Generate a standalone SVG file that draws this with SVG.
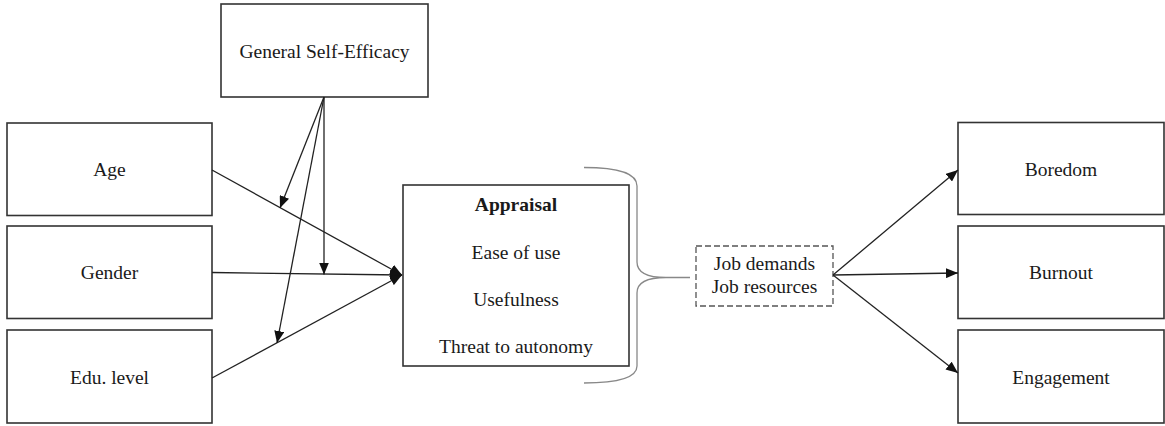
<svg xmlns="http://www.w3.org/2000/svg" width="1165" height="426" viewBox="0 0 1165 426">
  <defs>
    <style>
      .box { fill: #fff; stroke: #333; stroke-width: 1.6; }
      .dash { fill: #fff; stroke: #555; stroke-width: 1.3; stroke-dasharray: 6 3; }
      .lbl { font-family: "Liberation Serif", "Times New Roman", serif; font-size: 19.5px; fill: #1a1a1a; text-anchor: middle; }
      .bold { font-weight: bold; }
      .edge { fill: none; stroke: #222; stroke-width: 1.3; }
      .brace { fill: none; stroke: #888; stroke-width: 1.3; }
    </style>
    <marker id="arrow" markerUnits="userSpaceOnUse" markerWidth="12" markerHeight="10" viewBox="0 0 12 10" refX="12" refY="5" orient="auto">
      <path d="M0,0 L12,5 L0,10 Z" fill="#111"/>
    </marker>
  </defs>

  <!-- moderator -->
  <g id="self-efficacy">
    <rect class="box" x="221" y="4" width="207" height="93"/>
    <text class="lbl" x="324.5" y="58">General Self-Efficacy</text>
  </g>

  <!-- predictors -->
  <g id="age">
    <rect class="box" x="7" y="123" width="205" height="92.5"/>
    <text class="lbl" x="109.5" y="176">Age</text>
  </g>
  <g id="gender">
    <rect class="box" x="7" y="226" width="205" height="92.5"/>
    <text class="lbl" x="109.5" y="279">Gender</text>
  </g>
  <g id="education">
    <rect class="box" x="7" y="330" width="205" height="93"/>
    <text class="lbl" x="109.5" y="384">Edu. level</text>
  </g>

  <!-- appraisal -->
  <g id="appraisal">
    <rect class="box" x="403" y="185" width="226" height="181"/>
    <text class="lbl bold" x="516" y="210.5">Appraisal</text>
    <text class="lbl" x="516" y="259">Ease of use</text>
    <text class="lbl" x="516" y="306">Usefulness</text>
    <text class="lbl" x="516" y="353">Threat to autonomy</text>
  </g>

  <!-- brace grouping the appraisal dimensions -->
  <g id="brace">
    <path class="brace" d="M584,167.5 Q637,167.5 637,186 L637,262 Q637,277.5 666,277.5 L690,277.5 M666,277.5 Q637,277.5 637,293 L637,366 Q637,383 584,383"/>
  </g>

  <!-- job demands / resources -->
  <g id="job">
    <rect class="dash" x="696" y="246" width="137" height="60"/>
    <text class="lbl" x="764.5" y="270">Job demands</text>
    <text class="lbl" x="764.5" y="293">Job resources</text>
  </g>

  <!-- outcomes -->
  <g id="boredom">
    <rect class="box" x="958" y="122.5" width="206" height="92"/>
    <text class="lbl" x="1061" y="176">Boredom</text>
  </g>
  <g id="burnout">
    <rect class="box" x="958" y="226" width="206" height="92.5"/>
    <text class="lbl" x="1061" y="279">Burnout</text>
  </g>
  <g id="engagement">
    <rect class="box" x="958" y="330" width="206" height="93"/>
    <text class="lbl" x="1061" y="384">Engagement</text>
  </g>

  <!-- connectors -->
  <g id="connectors">
    <line class="edge" x1="212" y1="170" x2="402" y2="275" marker-end="url(#arrow)"/>
    <line class="edge" x1="212" y1="272.5" x2="402" y2="275" marker-end="url(#arrow)"/>
    <line class="edge" x1="212" y1="378" x2="402" y2="275" marker-end="url(#arrow)"/>

    <line class="edge" x1="324" y1="97" x2="280" y2="208" marker-end="url(#arrow)"/>
    <line class="edge" x1="324" y1="97" x2="324" y2="274.5" marker-end="url(#arrow)"/>
    <line class="edge" x1="324" y1="97" x2="277" y2="343" marker-end="url(#arrow)"/>

    <line class="edge" x1="833" y1="275" x2="958" y2="170" marker-end="url(#arrow)"/>
    <line class="edge" x1="833" y1="275" x2="958" y2="273" marker-end="url(#arrow)"/>
    <line class="edge" x1="833" y1="275" x2="958" y2="373" marker-end="url(#arrow)"/>
  </g>
</svg>
